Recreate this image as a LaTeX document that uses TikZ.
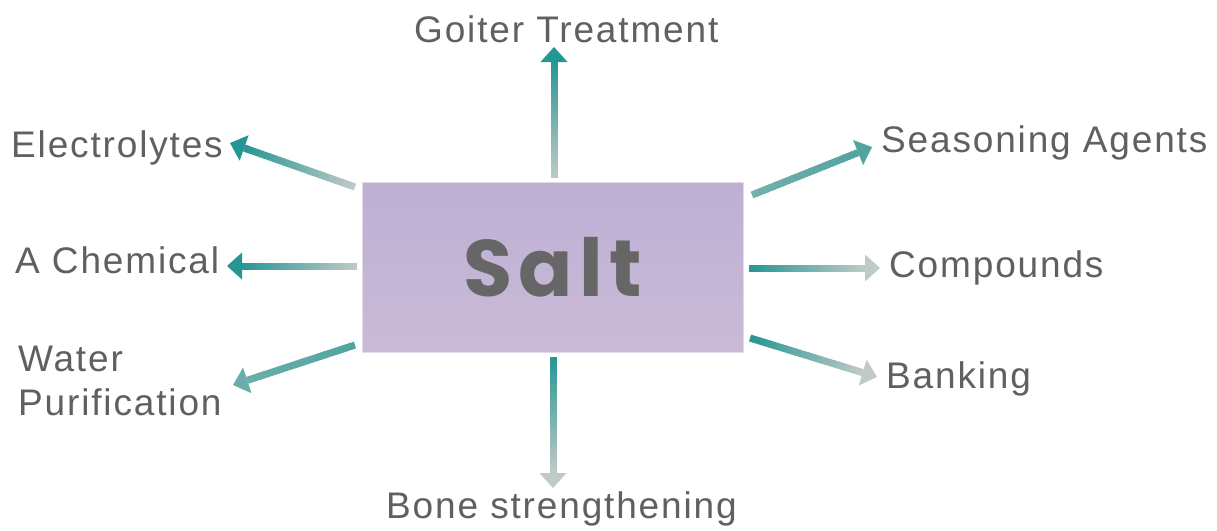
\documentclass[tikz,border=0pt]{standalone}
\usepackage{fontspec}
\setmainfont{Liberation Sans}
\newfontfamily\lblfont[LetterSpace=5]{Liberation Sans}
\newfontfamily\saltfont[LetterSpace=8]{Poppins}
\usetikzlibrary{calc}
\definecolor{tealc}{RGB}{38,150,146}
\definecolor{greyc}{RGB}{192,202,200}
\definecolor{lblc}{RGB}{96,96,96}
\definecolor{boxtop}{RGB}{189,176,212}
\definecolor{boxbot}{RGB}{201,186,214}
\definecolor{boxedge}{RGB}{226,217,234}
\definecolor{saltc}{RGB}{102,102,102}
\tikzset{
  lbl/.style={inner sep=0pt, text=lblc, font=\lblfont\fontsize{37}{44}\selectfont},
  saltbox/.style={minimum width=381pt, minimum height=170pt, inner sep=0pt,
    top color=boxtop, bottom color=boxbot, draw=boxedge, line width=0.8pt,
    text=saltc, font=\saltfont\bfseries\fontsize{80}{90}\selectfont},
  shaft/.style={line width=7pt, line cap=butt},
}
\newcommand\gradarrow[4]{%
  \coordinate (hb) at ($(#2)!15pt!(#1)$);
  \foreach \i in {0,...,29}{%
    \pgfmathsetmacro\ta{\i/30}%
    \pgfmathsetmacro\tb{min((\i+1.6)/30,1)}%
    \pgfmathtruncatemacro\pc{100*(\i+0.5)/30}%
    \draw[shaft, draw=#4!\pc!#3] ($(#1)!\ta!(hb)$) -- ($(#1)!\tb!(hb)$);
  }
  \fill[#4] (#2) -- ($(hb)!13.5pt!90:(#2)$) -- ($(hb)!13.5pt!-90:(#2)$) -- cycle;
}
\begin{document}
\begin{tikzpicture}[x=1pt,y=-1pt]
\useasboundingbox[fill=white] (0,0) rectangle (1217,530);
\node[saltbox] (salt) at (552.5,267) {Salt};
% labels
\node[lbl, anchor=base west] (goiter) at (414,42) {Goiter Treatment};
\node[lbl, anchor=base west] (electro) at (11,157) {Electrolytes};
\node[lbl, anchor=base west] (chem) at (15,273) {A Chemical};
\node[lbl, anchor=north west, align=left] (water) at (18,346) {Water\\Purification};
\node[lbl, anchor=base west] (season) at (881,152) {Seasoning Agents};
\node[lbl, anchor=base west] (comp) at (889,277) {Compounds};
\node[lbl, anchor=base west] (bank) at (886,388) {Banking};
\node[lbl, anchor=base west] (bone) at (386,518) {Bone strengthening};
% arrow end points
\coordinate (s1) at (554,178); \coordinate (t1) at (554,47);
\coordinate (s2) at (553,357); \coordinate (t2) at (553,488);
\coordinate (s3) at (355,187); \coordinate (t3) at (230,143);
\coordinate (s4) at (357,266); \coordinate (t4) at (227,266);
\coordinate (s5) at (355,345); \coordinate (t5) at (233,385);
\coordinate (s6) at (752,195); \coordinate (t6) at (872,147);
\coordinate (s7) at (749,268); \coordinate (t7) at (880,268);
\coordinate (s8) at (750,338); \coordinate (t8) at (877,377);
\colorlet{wstart}{tealc!72!greyc}
\colorlet{wend}{tealc!55!greyc}
\colorlet{sstart}{tealc!50!greyc}
\colorlet{send}{tealc!72!greyc}
\gradarrow{s1}{t1}{greyc}{tealc}
\gradarrow{s2}{t2}{tealc}{greyc}
\gradarrow{s3}{t3}{greyc}{tealc}
\gradarrow{s4}{t4}{greyc}{tealc}
\gradarrow{s5}{t5}{wstart}{wend}
\gradarrow{s6}{t6}{sstart}{send}
\gradarrow{s7}{t7}{tealc}{greyc}
\gradarrow{s8}{t8}{tealc}{greyc}
\end{tikzpicture}
\end{document}
